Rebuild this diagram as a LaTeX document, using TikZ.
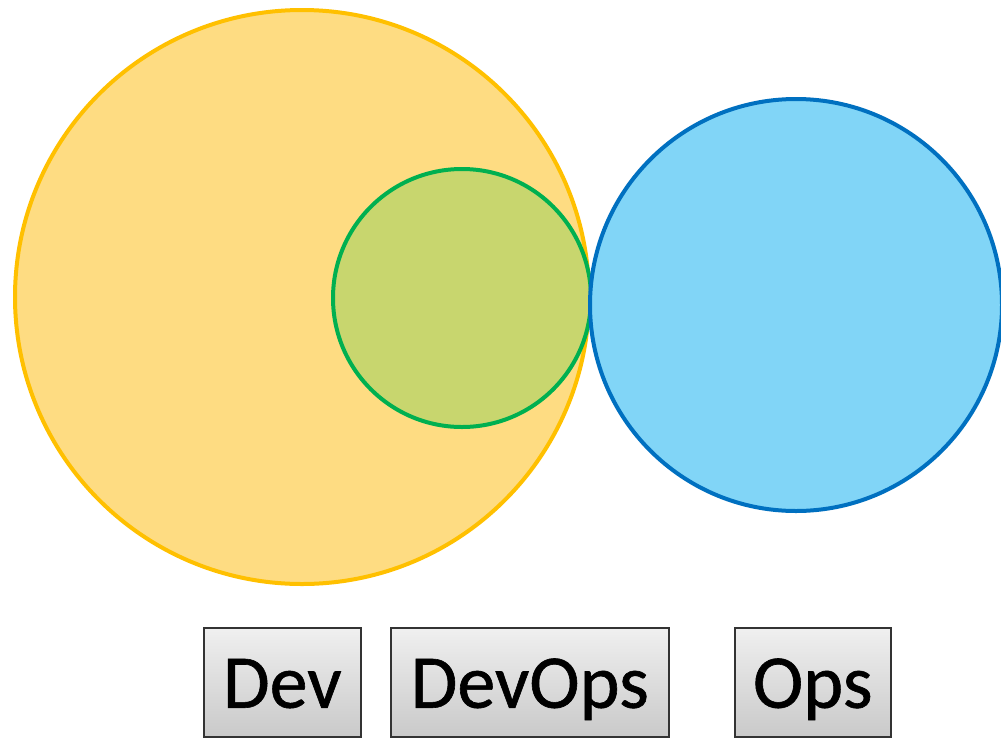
\documentclass[tikz,border=0pt]{standalone}
\usepackage{fontspec}
\setmainfont{Carlito}
\newfontfamily\lblfont[FakeBold=0.8]{Carlito}
\begin{document}
\begin{tikzpicture}[x=1pt,y=-1pt,
  lbl/.style={draw=black!80, line width=1.5pt, top color=gray!12, bottom color=gray!42,
    minimum height=109pt, inner sep=0pt, text height=51pt, text depth=0pt,
    font=\lblfont\fontsize{76}{80}\selectfont, anchor=north west}]
\definecolor{ylwfill}{HTML}{FEDC82}
\definecolor{ylwline}{HTML}{FFC000}
\definecolor{grnfill}{HTML}{C8D66E}
\definecolor{grnline}{HTML}{00B050}
\definecolor{blufill}{HTML}{81D5F7}
\definecolor{bluline}{HTML}{0070C0}
\useasboundingbox (0,0) rectangle (1001,737);
\fill[white] (0,0) rectangle (1001,737);
\node[circle, draw=ylwline, fill=ylwfill, line width=4pt, minimum size=574pt, inner sep=0pt] (dev) at (302,297) {};
\node[circle, draw=grnline, fill=grnfill, line width=4pt, minimum size=258pt, inner sep=0pt] (devops) at (462,298) {};
\node[circle, draw=bluline, fill=blufill, line width=4pt, minimum size=412pt, inner sep=0pt] (ops) at (796,305) {};
\node[lbl, minimum width=157pt] (ldev) at (203,627) {Dev};
\node[lbl, minimum width=278pt] (ldevops) at (390,627) {DevOps};
\node[lbl, minimum width=156pt] (lops) at (734,627) {Ops};
\end{tikzpicture}
\end{document}
